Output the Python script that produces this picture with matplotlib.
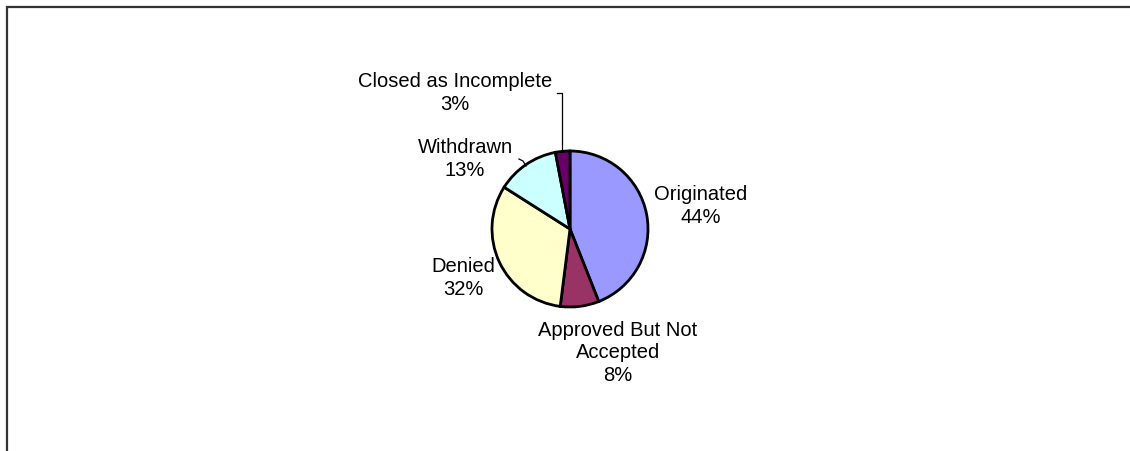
import matplotlib
matplotlib.use("Agg")
import matplotlib.pyplot as plt

plt.rcParams["font.family"] = ["Liberation Sans", "DejaVu Sans"]

# application outcomes, share of all applications (%)
categories = ["Originated", "Approved But Not\nAccepted", "Denied", "Withdrawn", "Closed as Incomplete"]
shares = [44, 8, 32, 13, 3]
colors = ["#9999FF", "#993366", "#FFFFCC", "#CCFFFF", "#660066"]

W, H = 1130, 451
fig = plt.figure(figsize=(W / 100, H / 100), dpi=100)
ax = fig.add_axes([0, 0, 1, 1])

cx, cy, r = 570, H - 229, 78
ax.pie(
    shares,
    colors=colors,
    startangle=90,
    counterclock=False,
    center=(cx, cy),
    radius=r,
    wedgeprops=dict(edgecolor="black", linewidth=2.0),
)
ax.set_xlim(0, W)
ax.set_ylim(0, H)
ax.set_aspect("auto")
ax.axis("off")

# label placement (pixel positions, y measured from top)
label_pos = [(701, 206), (618, 353), (463, 278), (465, 159), (455, 93)]
total = sum(shares)
for name, val, (lx, ly) in zip(categories, shares, label_pos):
    ax.text(lx, H - ly, f"{name}\n{val / total * 100:.0f}%", ha="center", va="center",
            multialignment="center", fontsize=14.5, linespacing=1.25)

# leader lines for the two small slices
ax.plot([557, 562, 562], [H - 93, H - 93, H - 152], color="black", lw=0.9)
ax.plot([519, 523, 526], [H - 159, H - 161, H - 166], color="black", lw=0.9)

# chart area border (top and left edges)
ax.plot([6.5, 6.5, W], [0, H - 6.5, H - 6.5], color="#333333", lw=1.6,
        solid_joinstyle="miter", clip_on=False)

fig.savefig("out.png", dpi=100)
